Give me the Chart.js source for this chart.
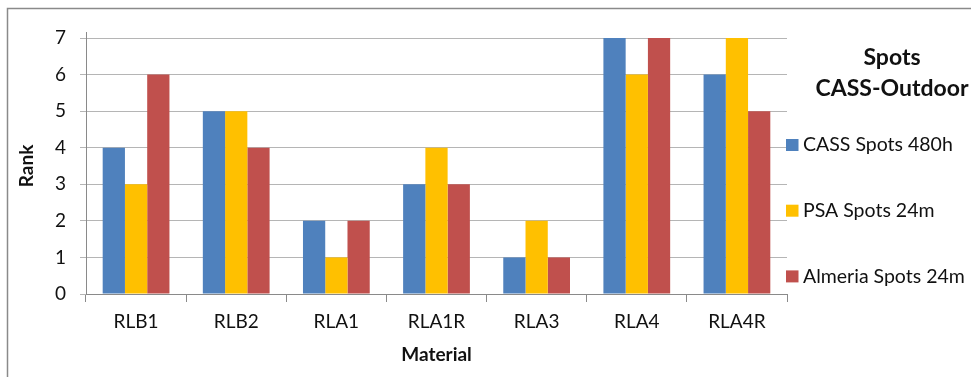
<!DOCTYPE html>
<html>
<head>
<meta charset="utf-8">
<script src="https://cdn.jsdelivr.net/npm/chart.js@4/dist/chart.umd.min.js"></script>
<style>
  html, body { margin: 0; padding: 0; background: #fff; overflow: hidden; }
  #wrap { width: 971px; height: 377px; position: relative; }
</style>
</head>
<body>
<div id="wrap"><canvas id="c" width="971" height="377"></canvas></div>
<script>
// Ranking of coating materials by spot formation
const materials = ['RLB1', 'RLB2', 'RLA1', 'RLA1R', 'RLA3', 'RLA4', 'RLA4R'];
const cassSpots480h = [4, 5, 2, 3, 1, 7, 6];
const psaSpots24m = [3, 5, 1, 4, 2, 6, 7];
const almeriaSpots24m = [6, 4, 2, 3, 1, 7, 5];
const seriesNames = ['CASS Spots 480h', 'PSA Spots 24m', 'Almeria Spots 24m'];
const seriesColors = ['#4F81BD', '#FFC000', '#C0504D'];
const rankMin = 0;
const rankMax = 7;
const keyTitle = ['Spots', 'CASS-Outdoor'];

const FONT = 'Lato, "Open Sans", sans-serif';
const TEXT = '#111';

// Outer frame, y-axis stub and the side key with its heading
const frameAndKey = {
  id: 'frameAndKey',
  beforeDraw(chart) {
    const ctx = chart.ctx;
    ctx.save();
    ctx.fillStyle = '#fff';
    ctx.fillRect(0, 0, chart.width, chart.height);
    ctx.strokeStyle = '#8a8a8a';
    ctx.lineWidth = 1.5;
    ctx.strokeRect(7.5, 8.5, chart.width + 20, chart.height + 20);
    ctx.restore();
  },
  afterDraw(chart) {
    const ctx = chart.ctx;
    const a = chart.chartArea;
    ctx.save();
    // axis line continues a little above the top gridline
    const ax = Math.round(a.left - 0.5) + 0.5;
    ctx.strokeStyle = '#8a8a8a';
    ctx.lineWidth = 1;
    ctx.beginPath();
    ctx.moveTo(ax, a.top - 6);
    ctx.lineTo(ax, a.top);
    ctx.stroke();

    // heading
    ctx.fillStyle = TEXT;
    ctx.font = 'bold 23px ' + FONT;
    ctx.textAlign = 'center';
    ctx.textBaseline = 'middle';
    const cx = a.right + 105;
    keyTitle.forEach((line, i) => ctx.fillText(line, cx, 58 + i * 30.5));

    // series key
    ctx.font = '19.5px ' + FONT;
    ctx.textAlign = 'left';
    chart.data.datasets.forEach((ds, i) => {
      const y = 145 + i * 65.7;
      ctx.fillStyle = ds.backgroundColor;
      ctx.fillRect(a.right - 1, y - 6, 12.5, 12);
      ctx.fillStyle = TEXT;
      ctx.fillText(ds.label, a.right + 16, y);
    });
    ctx.restore();
  }
};

const seriesValues = [cassSpots480h, psaSpots24m, almeriaSpots24m];

new Chart(document.getElementById('c'), {
  type: 'bar',
  data: {
    labels: materials,
    datasets: seriesValues.map((vals, i) => ({
      label: seriesNames[i],
      data: vals,
      backgroundColor: seriesColors[i],
      borderWidth: 0,
      categoryPercentage: 3 / 4.5,
      barPercentage: 1
    }))
  },
  options: {
    responsive: false,
    animation: false,
    devicePixelRatio: 1,
    layout: { padding: { left: 0, top: 38, right: 184, bottom: 0 } },
    plugins: {
      legend: { display: false },
      tooltip: { enabled: false },
      title: { display: false }
    },
    scales: {
      x: {
        afterFit(scale) { scale.height = 83; },
        grid: {
          offset: true,
          drawOnChartArea: false,
          drawTicks: true,
          tickLength: 8,
          tickColor: '#8a8a8a',
          lineWidth: 1
        },
        border: { display: true, color: '#8a8a8a', width: 1 },
        ticks: { color: TEXT, font: { family: FONT, size: 19 }, padding: 8, maxRotation: 0 },
        title: {
          display: true,
          text: 'Material',
          color: TEXT,
          font: { family: FONT, size: 19, weight: 'bold' },
          padding: { top: 0, bottom: 11 }
        }
      },
      y: {
        min: rankMin,
        max: rankMax,
        afterFit(scale) { scale.width = 86; },
        grid: {
          color: '#b5b5b5',
          tickColor: '#b5b5b5',
          tickLength: 6,
          lineWidth: 1
        },
        border: { display: true, color: '#8a8a8a', width: 1 },
        ticks: { stepSize: 1, color: TEXT, font: { family: FONT, size: 19 }, padding: 14 },
        title: {
          display: true,
          text: 'Rank',
          color: TEXT,
          font: { family: FONT, size: 19, weight: 'bold' },
          padding: { top: 15, bottom: 0 }
        }
      }
    }
  },
  plugins: [frameAndKey]
});
</script>
</body>
</html>
